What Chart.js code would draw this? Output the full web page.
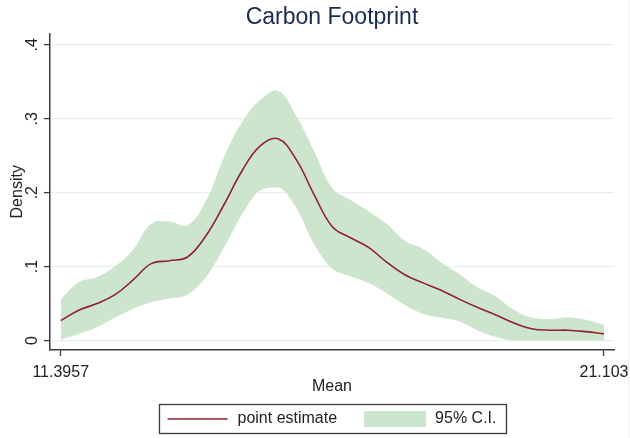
<!DOCTYPE html>
<html>
<head>
<meta charset="utf-8">
<script src="https://cdn.jsdelivr.net/npm/chart.js@4.4.1/dist/chart.umd.min.js"></script>
<style>
  html, body { margin: 0; padding: 0; background: #ffffff; }
  #wrap { width: 630px; height: 438px; position: relative; }
</style>
</head>
<body>
<div id="wrap"><canvas id="c" width="630" height="438"></canvas></div>
<script>
// Evaluation points of the kernel density (mean carbon footprint)
const means = [11.3957, 11.7193, 12.0429, 12.3664, 12.6900, 13.0136, 13.3372, 13.6607,
  13.9843, 14.3079, 14.6315, 14.9550, 15.2786, 15.6022, 15.9258, 16.2494, 16.5729,
  16.8965, 17.2201, 17.5437, 17.8672, 18.1908, 18.5144, 18.8380, 19.1615, 19.4851,
  19.8087, 20.1323, 20.4558, 20.7794, 21.1030];

// Point estimate of the density
const density = [0.027, 0.041, 0.050, 0.062, 0.082, 0.104, 0.108, 0.113, 0.141, 0.183,
  0.229, 0.263, 0.273, 0.245, 0.197, 0.154, 0.139, 0.126, 0.106, 0.089, 0.078, 0.068,
  0.056, 0.045, 0.035, 0.024, 0.016, 0.014, 0.014, 0.012, 0.009];

// 95% confidence band
const ciUpper = [0.056, 0.079, 0.086, 0.100, 0.123, 0.158, 0.161, 0.156, 0.188, 0.247,
  0.295, 0.325, 0.338, 0.304, 0.256, 0.206, 0.190, 0.175, 0.158, 0.135, 0.124, 0.106,
  0.090, 0.072, 0.060, 0.042, 0.031, 0.029, 0.031, 0.028, 0.021];
const ciLower = [0.001, 0.009, 0.018, 0.031, 0.043, 0.052, 0.057, 0.062, 0.085, 0.125,
  0.170, 0.203, 0.207, 0.180, 0.130, 0.097, 0.087, 0.078, 0.064, 0.048, 0.036, 0.031,
  0.026, 0.014, 0.005, 0.000, 0.000, 0.000, 0.000, 0.000, 0.000];

// Axis ticks and their labels
const xTicks = [11.3957, 21.103];
const xTickLabels = ['11.3957', '21.103'];
const yTicks = [0, 0.1, 0.2, 0.3, 0.4];
const yTickLabels = ['0', '.1', '.2', '.3', '.4'];

const seriesNames = ['point estimate', '95% C.I.'];

const LINE_COLOR = '#8e2331';
const BAND_COLOR = 'rgb(205,228,205)';
const AXIS_COLOR = '#3a3a3a';
const GRID_COLOR = '#e6eff3';
const TEXT_COLOR = '#222222';
const FONT = '"Liberation Sans", Arial, sans-serif';

const toPoints = arr => arr.map((v, i) => ({ x: means[i], y: v }));

// Boxed legend below the x-axis title, plus the faint outer frame edge
const boxedLegend = {
  id: 'boxedLegend',
  afterDraw(chart) {
    const ctx = chart.ctx;
    const area = chart.chartArea;
    ctx.save();

    ctx.strokeStyle = '#eef2f6';
    ctx.lineWidth = 1;
    ctx.beginPath();
    ctx.moveTo(chart.width - 1.5, 0);
    ctx.lineTo(chart.width - 1.5, chart.height);
    ctx.stroke();

    ctx.font = '16px ' + FONT;
    const w1 = ctx.measureText(seriesNames[0]).width;
    const w2 = ctx.measureText(seriesNames[1]).width;
    const padL = 8, padR = 10, sample = 60, gapText = 10, gapItem = 27, swatch = 62, gapText2 = 9;
    const total = padL + sample + gapText + w1 + gapItem + swatch + gapText2 + w2 + padR;
    const cx = (area.left + area.right) / 2;
    const left = Math.round(cx - total / 2) + 0.5;
    const top = 404.5, h = 29;
    const midY = top + h / 2;

    ctx.strokeStyle = AXIS_COLOR;
    ctx.lineWidth = 1.3;
    ctx.strokeRect(left, top, total, h);

    let x = left + padL;
    ctx.strokeStyle = LINE_COLOR;
    ctx.lineWidth = 1.5;
    ctx.beginPath();
    ctx.moveTo(x, midY);
    ctx.lineTo(x + sample, midY);
    ctx.stroke();
    x += sample + gapText;

    ctx.fillStyle = TEXT_COLOR;
    ctx.textBaseline = 'middle';
    ctx.textAlign = 'left';
    ctx.fillText(seriesNames[0], x, midY);
    x += w1 + gapItem;

    ctx.fillStyle = BAND_COLOR;
    ctx.fillRect(x, midY - 8, swatch, 16);
    x += swatch + gapText2;

    ctx.fillStyle = TEXT_COLOR;
    ctx.fillText(seriesNames[1], x, midY);
    ctx.restore();
  }
};

new Chart(document.getElementById('c'), {
  type: 'line',
  data: {
    datasets: [
      {
        label: seriesNames[1],
        data: toPoints(ciUpper),
        borderWidth: 0,
        borderColor: 'rgba(0,0,0,0)',
        backgroundColor: BAND_COLOR,
        fill: '+1',
        pointRadius: 0,
        tension: 0.4,
        order: 2
      },
      {
        label: 'lower',
        data: toPoints(ciLower),
        borderWidth: 0,
        borderColor: 'rgba(0,0,0,0)',
        backgroundColor: BAND_COLOR,
        fill: false,
        pointRadius: 0,
        tension: 0.4,
        cubicInterpolationMode: 'monotone',
        order: 3
      },
      {
        label: seriesNames[0],
        data: toPoints(density),
        borderColor: LINE_COLOR,
        borderWidth: 1.6,
        fill: false,
        pointRadius: 0,
        tension: 0.4,
        order: 1
      }
    ]
  },
  options: {
    responsive: false,
    animation: false,
    events: [],
    layout: { padding: { left: 0, right: 0, top: 0, bottom: 42 } },
    plugins: {
      legend: { display: false },
      tooltip: { enabled: false },
      title: {
        display: true,
        fullSize: false,
        text: 'Carbon Footprint',
        color: '#1b2a4f',
        font: { family: FONT, size: 23, weight: 'normal' },
        padding: { top: 4, bottom: 2 }
      }
    },
    scales: {
      x: {
        type: 'linear',
        min: 11.2045,
        max: 21.282,
        afterBuildTicks: s => { s.ticks = xTicks.map(v => ({ value: v })); },
        afterFit: s => { s.height = 46; s.paddingLeft = 0; s.paddingRight = 16; },
        ticks: {
          autoSkip: false,
          maxRotation: 0,
          padding: 7,
          color: TEXT_COLOR,
          font: { family: FONT, size: 16 },
          callback: (v, i) => xTickLabels[i]
        },
        grid: {
          drawOnChartArea: false,
          drawTicks: true,
          tickLength: 6,
          tickColor: AXIS_COLOR,
          tickWidth: 1.3
        },
        border: { display: true, color: AXIS_COLOR, width: 1.5 },
        title: {
          display: true,
          text: 'Mean',
          color: TEXT_COLOR,
          font: { family: FONT, size: 16 },
          padding: { top: 0, bottom: 0 }
        }
      },
      y: {
        type: 'linear',
        min: -0.0128,
        max: 0.4152,
        afterBuildTicks: s => { s.ticks = yTicks.map(v => ({ value: v })); },
        afterFit: s => { s.width = 50; },
        ticks: {
          autoSkip: false,
          minRotation: 90,
          maxRotation: 90,
          crossAlign: 'center',
          padding: 5,
          color: TEXT_COLOR,
          font: { family: FONT, size: 16 },
          callback: (v, i) => yTickLabels[i]
        },
        grid: {
          color: GRID_COLOR,
          lineWidth: 1.2,
          drawTicks: true,
          tickLength: 6,
          tickColor: AXIS_COLOR,
          tickWidth: 1.3
        },
        border: { display: true, color: AXIS_COLOR, width: 1.5 },
        title: {
          display: true,
          text: 'Density',
          color: TEXT_COLOR,
          font: { family: FONT, size: 16 },
          padding: { top: 8, bottom: 0 }
        }
      }
    }
  },
  plugins: [boxedLegend]
});
</script>
</body>
</html>
